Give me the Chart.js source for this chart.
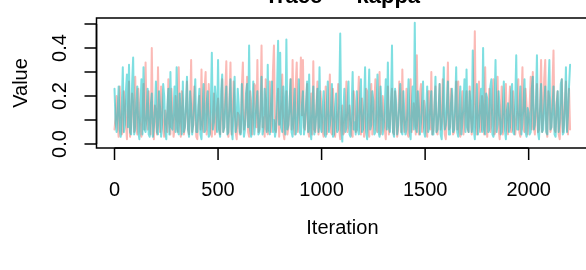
<!DOCTYPE html>
<html>
<head>
<meta charset="utf-8">
<script src="https://cdn.jsdelivr.net/npm/chart.js@4"></script>
<style>
  html, body { margin: 0; padding: 0; background: #fff; overflow: hidden; }
  #wrap { width: 600px; height: 270px; }
</style>
</head>
<body>
<div id="wrap"><canvas id="trace" width="600" height="270"></canvas></div>
<script>
// Trace plot for kappa, two chains, one value per 5 iterations
const iterStep = 5;

const chain1 = [
  0.06,0.11,0.20,0.08,0.03,0.24,0.15,0.04,0.05,0.22,0.18,0.09,0.02,0.15,0.26,0.03,0.07,0.21,0.16,0.05,
  0.28,0.07,0.04,0.23,0.14,0.05,0.03,0.12,0.25,0.06,0.34,0.10,0.06,0.22,0.11,0.04,0.40,0.09,0.02,0.16,
  0.13,0.04,0.32,0.08,0.05,0.24,0.17,0.06,0.03,0.14,0.10,0.05,0.27,0.09,0.04,0.23,0.15,0.03,0.06,0.20,
  0.12,0.05,0.32,0.10,0.03,0.22,0.18,0.04,0.07,0.15,0.26,0.06,0.04,0.13,0.35,0.05,0.08,0.24,0.14,0.03,
  0.02,0.14,0.20,0.06,0.31,0.08,0.05,0.23,0.30,0.04,0.09,0.25,0.16,0.05,0.03,0.11,0.21,0.04,0.06,0.15,
  0.19,0.06,0.04,0.12,0.27,0.05,0.07,0.22,0.345,0.06,0.03,0.18,0.34,0.04,0.10,0.26,0.15,0.05,0.02,0.13,
  0.12,0.04,0.05,0.24,0.34,0.06,0.08,0.15,0.28,0.05,0.03,0.22,0.17,0.04,0.09,0.25,0.24,0.07,0.35,0.05,
  0.06,0.16,0.41,0.07,0.11,0.03,0.27,0.06,0.04,0.14,0.26,0.05,0.08,0.30,0.41,0.06,0.05,0.13,0.23,0.03,
  0.10,0.17,0.29,0.05,0.02,0.12,0.22,0.04,0.07,0.15,0.27,0.06,0.35,0.08,0.04,0.24,0.34,0.05,0.09,0.19,
  0.36,0.12,0.35,0.07,0.06,0.15,0.25,0.05,0.03,0.11,0.21,0.04,0.345,0.06,0.05,0.16,0.26,0.04,0.08,0.22,
  0.15,0.05,0.03,0.14,0.24,0.04,0.06,0.17,0.29,0.05,0.04,0.23,0.13,0.03,0.07,0.14,0.25,0.06,0.02,0.11,
  0.16,0.04,0.05,0.13,0.26,0.05,0.08,0.16,0.12,0.04,0.03,0.22,0.18,0.05,0.06,0.17,0.28,0.07,0.04,0.19,
  0.14,0.03,0.07,0.23,0.22,0.06,0.03,0.12,0.25,0.04,0.09,0.18,0.27,0.06,0.05,0.14,0.30,0.04,0.06,0.20,
  0.15,0.06,0.02,0.13,0.24,0.04,0.08,0.17,0.23,0.05,0.04,0.22,0.13,0.03,0.06,0.26,0.18,0.05,0.31,0.10,
  0.05,0.12,0.23,0.04,0.03,0.14,0.27,0.05,0.08,0.17,0.12,0.04,0.37,0.08,0.04,0.21,0.25,0.05,0.07,0.18,
  0.14,0.05,0.03,0.22,0.22,0.06,0.30,0.04,0.06,0.16,0.24,0.05,0.04,0.14,0.25,0.06,0.09,0.27,0.13,0.04,
  0.02,0.14,0.34,0.06,0.07,0.23,0.20,0.04,0.05,0.13,0.26,0.06,0.26,0.05,0.03,0.15,0.22,0.04,0.08,0.17,
  0.22,0.06,0.05,0.24,0.14,0.04,0.09,0.18,0.47,0.07,0.04,0.15,0.26,0.05,0.06,0.20,0.13,0.04,0.32,0.08,
  0.03,0.14,0.23,0.05,0.08,0.18,0.27,0.04,0.05,0.16,0.28,0.06,0.02,0.13,0.24,0.04,0.07,0.17,0.25,0.06,
  0.04,0.15,0.24,0.05,0.06,0.22,0.13,0.04,0.09,0.14,0.27,0.05,0.03,0.18,0.32,0.06,0.05,0.23,0.16,0.04,
  0.08,0.17,0.28,0.06,0.30,0.07,0.04,0.14,0.25,0.05,0.06,0.16,0.35,0.05,0.10,0.27,0.35,0.06,0.03,0.22,
  0.19,0.05,0.07,0.24,0.39,0.06,0.05,0.17,0.22,0.04,0.02,0.13,0.27,0.05,0.08,0.18,0.26,0.06,0.04,0.23,
  0.06
];

const chain2 = [
  0.23,0.09,0.05,0.14,0.24,0.06,0.03,0.15,0.32,0.05,0.08,0.22,0.29,0.07,0.33,0.05,0.04,0.25,0.36,0.04,
  0.06,0.17,0.24,0.05,0.02,0.15,0.27,0.04,0.32,0.06,0.05,0.13,0.23,0.04,0.03,0.16,0.21,0.03,0.07,0.14,
  0.26,0.05,0.04,0.22,0.15,0.03,0.09,0.25,0.20,0.05,0.02,0.15,0.23,0.04,0.30,0.07,0.06,0.14,0.24,0.05,
  0.32,0.06,0.04,0.21,0.11,0.04,0.26,0.05,0.07,0.16,0.28,0.06,0.03,0.22,0.16,0.04,0.08,0.17,0.27,0.05,
  0.05,0.16,0.23,0.04,0.02,0.13,0.25,0.05,0.06,0.17,0.22,0.03,0.04,0.15,0.38,0.06,0.09,0.24,0.17,0.05,
  0.35,0.06,0.03,0.22,0.29,0.05,0.07,0.16,0.24,0.04,0.05,0.17,0.27,0.06,0.02,0.14,0.28,0.05,0.08,0.23,
  0.16,0.05,0.04,0.25,0.12,0.03,0.06,0.21,0.25,0.07,0.41,0.06,0.03,0.14,0.26,0.04,0.09,0.16,0.22,0.04,
  0.05,0.14,0.28,0.04,0.07,0.23,0.15,0.05,0.33,0.06,0.04,0.15,0.26,0.05,0.10,0.03,0.06,0.22,0.43,0.08,
  0.38,0.07,0.05,0.24,0.14,0.04,0.435,0.06,0.08,0.16,0.27,0.05,0.03,0.14,0.23,0.04,0.06,0.15,0.27,0.05,
  0.04,0.16,0.22,0.04,0.08,0.17,0.26,0.05,0.29,0.06,0.02,0.15,0.24,0.04,0.07,0.14,0.23,0.05,0.32,0.07,
  0.05,0.15,0.22,0.04,0.03,0.16,0.26,0.05,0.08,0.14,0.25,0.03,0.04,0.15,0.21,0.05,0.06,0.17,0.46,0.06,
  0.01,0.13,0.23,0.05,0.07,0.16,0.26,0.04,0.03,0.15,0.30,0.06,0.09,0.04,0.22,0.06,0.04,0.17,0.27,0.05,
  0.06,0.15,0.32,0.05,0.02,0.14,0.31,0.06,0.08,0.22,0.18,0.04,0.05,0.15,0.29,0.05,0.03,0.24,0.16,0.04,
  0.07,0.15,0.27,0.06,0.34,0.07,0.05,0.16,0.41,0.05,0.03,0.23,0.17,0.04,0.08,0.16,0.25,0.05,0.04,0.22,
  0.13,0.04,0.06,0.15,0.27,0.05,0.02,0.14,0.24,0.06,0.505,0.07,0.05,0.22,0.15,0.04,0.09,0.17,0.26,0.05,
  0.03,0.14,0.24,0.05,0.07,0.16,0.22,0.04,0.04,0.15,0.28,0.05,0.06,0.14,0.25,0.04,0.02,0.15,0.32,0.06,
  0.08,0.16,0.26,0.04,0.04,0.17,0.23,0.05,0.06,0.16,0.32,0.05,0.03,0.15,0.24,0.04,0.09,0.16,0.27,0.05,
  0.31,0.07,0.05,0.22,0.13,0.05,0.39,0.06,0.02,0.14,0.25,0.04,0.07,0.16,0.23,0.05,0.40,0.06,0.04,0.21,
  0.19,0.05,0.06,0.24,0.27,0.04,0.03,0.15,0.35,0.05,0.08,0.22,0.14,0.04,0.05,0.15,0.26,0.06,0.02,0.14,
  0.17,0.05,0.07,0.22,0.25,0.05,0.04,0.17,0.37,0.06,0.06,0.15,0.24,0.04,0.09,0.16,0.27,0.05,0.03,0.15,
  0.13,0.04,0.05,0.23,0.28,0.06,0.08,0.17,0.37,0.05,0.02,0.14,0.25,0.05,0.06,0.16,0.24,0.05,0.04,0.22,
  0.35,0.06,0.07,0.15,0.24,0.04,0.03,0.16,0.22,0.05,0.09,0.25,0.27,0.04,0.05,0.15,0.32,0.05,0.12,0.24,
  0.33
];

const xTicks = [0, 500, 1000, 1500, 2000];
const yTicks = [0.0, 0.1, 0.2, 0.3, 0.4, 0.5];
const yTickLabels = ['0.0', '', '0.2', '', '0.4', ''];

const titleText = 'Trace \u2014 kappa';
const xTitle = 'Iteration';
const yTitle = 'Value';

const FONT = '"Liberation Sans", Arial, Helvetica, sans-serif';

function toPoints(values) {
  return values.map((v, i) => ({ x: i * iterStep, y: v }));
}

// R-style box, axes, ticks and labels
const baseAxes = {
  id: 'baseAxes',
  afterDraw(chart) {
    const { ctx, chartArea: a, scales } = chart;
    const xs = scales.x, ys = scales.y;
    const tick = 12;
    ctx.save();
    ctx.strokeStyle = '#000';
    ctx.fillStyle = '#000';
    ctx.lineWidth = 1.5;
    ctx.strokeRect(a.left, a.top, a.right - a.left, a.bottom - a.top);

    // x axis
    const x0 = xs.getPixelForValue(xTicks[0]);
    const x1 = xs.getPixelForValue(xTicks[xTicks.length - 1]);
    ctx.beginPath();
    ctx.moveTo(x0, a.bottom);
    ctx.lineTo(x1, a.bottom);
    xTicks.forEach(v => {
      const px = xs.getPixelForValue(v);
      ctx.moveTo(px, a.bottom);
      ctx.lineTo(px, a.bottom + tick);
    });
    // y axis
    const y0 = ys.getPixelForValue(yTicks[0]);
    const y1 = ys.getPixelForValue(yTicks[yTicks.length - 1]);
    ctx.moveTo(a.left, y0);
    ctx.lineTo(a.left, y1);
    yTicks.forEach(v => {
      const py = ys.getPixelForValue(v);
      ctx.moveTo(a.left, py);
      ctx.lineTo(a.left - tick, py);
    });
    ctx.stroke();

    ctx.font = '20px ' + FONT;
    ctx.textAlign = 'center';
    ctx.textBaseline = 'middle';
    xTicks.forEach(v => {
      ctx.fillText(String(v), xs.getPixelForValue(v), 190);
    });
    ctx.fillText(xTitle, (a.left + a.right) / 2, 228);

    yTicks.forEach((v, i) => {
      if (!yTickLabels[i]) return;
      ctx.save();
      ctx.translate(60, ys.getPixelForValue(v));
      ctx.rotate(-Math.PI / 2);
      ctx.fillText(yTickLabels[i], 0, 0);
      ctx.restore();
    });
    ctx.save();
    ctx.translate(21, (a.top + a.bottom) / 2);
    ctx.rotate(-Math.PI / 2);
    ctx.fillText(yTitle, 0, 0);
    ctx.restore();

    ctx.font = 'bold 22px ' + FONT;
    ctx.textBaseline = 'alphabetic';
    ctx.fillText(titleText, (a.left + a.right) / 2, 3);
    ctx.restore();
  }
};

const lineStyle = {
  borderWidth: 2,
  borderJoinStyle: 'round',
  borderCapStyle: 'round',
  pointRadius: 0,
  tension: 0,
  fill: false
};

new Chart(document.getElementById('trace'), {
  type: 'line',
  data: {
    datasets: [
      Object.assign({
        label: 'chain 2',
        data: toPoints(chain2),
        borderColor: 'rgba(0, 191, 196, 0.5)'
      }, lineStyle),
      Object.assign({
        label: 'chain 1',
        data: toPoints(chain1),
        borderColor: 'rgba(248, 118, 109, 0.5)'
      }, lineStyle)
    ]
  },
  options: {
    responsive: false,
    animation: false,
    layout: { padding: { left: 96.5, right: 11.7, top: 18, bottom: 122 } },
    plugins: {
      legend: { display: false },
      tooltip: { enabled: false },
      title: { display: false }
    },
    scales: {
      x: { type: 'linear', display: false, min: -87, max: 2288 },
      y: { type: 'linear', display: false, min: -0.0167, max: 0.525 }
    }
  },
  plugins: [baseAxes]
});
</script>
</body>
</html>
